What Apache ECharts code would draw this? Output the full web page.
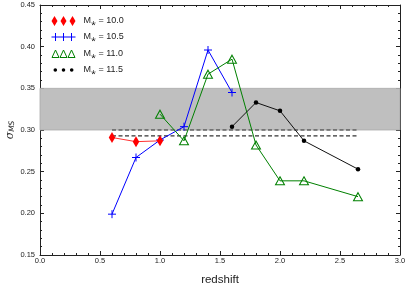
<!DOCTYPE html>
<html>
<head>
<meta charset="utf-8">
<script src="https://cdn.jsdelivr.net/npm/echarts@6/dist/echarts.min.js"></script>
<style>html,body{margin:0;padding:0;background:#fff}#c{width:407px;height:291px}</style>
</head>
<body>
<div id="c"></div>
<script>
// ---- data ----
const seriesNames = ['M\u204E = 10.0', 'M\u204E = 10.5', 'M\u204E = 11.0', 'M\u204E = 11.5'];
const z100 = [0.6, 0.8, 1.0];
const s100 = [0.291, 0.286, 0.287];
const z105 = [0.6, 0.8, 1.0, 1.2, 1.4, 1.6];
const s105 = [0.199, 0.267, 0.288, 0.304, 0.396, 0.345];
const z110 = [1.0, 1.2, 1.4, 1.6, 1.8, 2.0, 2.2, 2.65];
const s110 = [0.319, 0.287, 0.367, 0.385, 0.282, 0.239, 0.239, 0.220];
const z115 = [1.6, 1.8, 2.0, 2.2, 2.65];
const s115 = [0.304, 0.333, 0.323, 0.287, 0.253];
const bandRange = [0.30, 0.35];
const refLevels = [0.300, 0.293];
const refRange = [0.6, 2.65];
const xTicks = [0.0, 0.5, 1.0, 1.5, 2.0, 2.5, 3.0];
const yTicks = [0.15, 0.20, 0.25, 0.30, 0.35, 0.40, 0.45];

const pair = (xs, ys) => xs.map((x, i) => [x, ys[i]]);
const axisColor = '#222';
const font = 'Liberation Sans';

function xAx(pos, showLabel) {
  return {
    type: 'value', position: pos, min: xTicks[0], max: xTicks[xTicks.length - 1], interval: 0.5,
    axisLine: {show: true, onZero: false, lineStyle: {color: axisColor, width: 1}},
    axisTick: {show: true, inside: true, length: 4, lineStyle: {color: axisColor}},
    minorTick: {show: true, splitNumber: 5, length: 2, lineStyle: {color: axisColor}},
    splitLine: {show: false},
    axisLabel: {show: showLabel, fontSize: 7.5, fontFamily: font, color: axisColor, margin: 2,
      formatter: v => v.toFixed(1)}
  };
}
function yAx(pos, showLabel) {
  return {
    type: 'value', position: pos, min: yTicks[0], max: yTicks[yTicks.length - 1], interval: 0.05,
    axisLine: {show: true, onZero: false, lineStyle: {color: axisColor, width: 1}},
    axisTick: {show: true, inside: true, length: 4, lineStyle: {color: axisColor}},
    minorTick: {show: true, splitNumber: 5, length: 2, lineStyle: {color: axisColor}},
    splitLine: {show: false},
    axisLabel: {show: showLabel, fontSize: 7.5, fontFamily: font, color: axisColor, margin: 5,
      formatter: v => v.toFixed(2)}
  };
}

const xMain = xAx('bottom', true);
xMain.name = 'redshift';
xMain.nameLocation = 'middle';
xMain.nameGap = 19;
xMain.nameMoveOverlap = false;
xMain.nameTextStyle = {fontSize: 11.5, fontFamily: font, color: axisColor};
const yMain = yAx('left', true);
yMain.name = '{a|\u03C3}{b|MS}';
yMain.nameLocation = 'middle';
yMain.nameGap = 24;
yMain.nameMoveOverlap = false;
yMain.nameRotate = 90;
yMain.nameTextStyle = {
  rich: {
    a: {fontSize: 11, fontStyle: 'italic', fontFamily: 'DejaVu Serif', color: axisColor},
    b: {fontSize: 7.5, fontStyle: 'italic', fontFamily: 'DejaVu Sans', color: axisColor, padding: [4, 0, 0, 0]}
  }
};

// legend icons (24 x 10 boxes)
const iconDiamonds = 'path://M0,0M24,10M3,0L6,5L3,10L0,5Z M12,0L15,5L12,10L9,5Z M21,0L24,5L21,10L18,5Z';
const iconPluses = 'path://M0,0M24,10M0,4.5L24,4.5L24,5.5L0,5.5Z M3.5,1L4.5,1L4.5,9L3.5,9Z M11.5,1L12.5,1L12.5,9L11.5,9Z M19.5,1L20.5,1L20.5,9L19.5,9Z';
const iconTris = 'path://M0,0M24,10M0.5,9L4,1.5L7.5,9Z M8.5,9L12,1.5L15.5,9Z M16.5,9L20,1.5L23.5,9Z';
const iconDots = 'path://M0,0M24,10M2,5A1.8,1.8 0 1,0 5.6,5A1.8,1.8 0 1,0 2,5Z M10.2,5A1.8,1.8 0 1,0 13.8,5A1.8,1.8 0 1,0 10.2,5Z M18.4,5A1.8,1.8 0 1,0 22,5A1.8,1.8 0 1,0 18.4,5Z';

const red = '#ff0000', blue = '#0000ff', green = '#008000', black = '#000000';

const option = {
  animation: false,
  backgroundColor: '#fff',
  grid: {left: 40, right: 7, top: 5, bottom: 36, containLabel: false, outerBoundsMode: 'none'},
  xAxis: [xMain, xAx('top', false)],
  yAxis: [yMain, yAx('right', false)],
  legend: {
    orient: 'vertical', left: 46, top: 11, itemWidth: 24, itemHeight: 10, itemGap: 6,
    symbolKeepAspect: false,
    textStyle: {fontSize: 9, fontFamily: font, color: axisColor, padding: [0, 0, 0, 3]},
    data: [
      {name: seriesNames[0], icon: iconDiamonds, itemStyle: {color: red, borderWidth: 0}},
      {name: seriesNames[1], icon: iconPluses, itemStyle: {color: blue, borderWidth: 0}},
      {name: seriesNames[2], icon: iconTris, itemStyle: {color: 'rgba(0,0,0,0)', borderColor: green, borderWidth: 1}},
      {name: seriesNames[3], icon: iconDots, itemStyle: {color: black, borderWidth: 0}}
    ]
  },
  series: [
    {
      type: 'line', name: 'band', data: [], z: 1, silent: true,
      markArea: {
        silent: true,
        itemStyle: {color: '#bfbfbf', borderColor: '#a9a9a9', borderWidth: 0.8},
        data: [[{yAxis: bandRange[0]}, {yAxis: bandRange[1]}]]
      }
    },
    {
      type: 'line', name: 'ref1', z: 2, silent: true, symbol: 'none',
      data: [[refRange[0], refLevels[0]], [refRange[1], refLevels[0]]],
      lineStyle: {color: '#333', width: 1.2, type: [4, 2.5]}
    },
    {
      type: 'line', name: 'ref2', z: 2, silent: true, symbol: 'none',
      data: [[refRange[0], refLevels[1]], [refRange[1], refLevels[1]]],
      lineStyle: {color: '#333', width: 1.2, type: [4, 2.5]}
    },
    {
      type: 'line', name: seriesNames[1], z: 3, data: pair(z105, s105),
      symbol: 'path://M4,0L4,8M0,4L8,4', symbolSize: 8,
      lineStyle: {color: blue, width: 1},
      itemStyle: {color: blue, borderColor: blue, borderWidth: 1}
    },
    {
      type: 'line', name: seriesNames[2], z: 3, data: pair(z110, s110),
      symbol: 'triangle', symbolSize: [9, 8],
      lineStyle: {color: green, width: 1},
      itemStyle: {color: 'rgba(0,0,0,0)', borderColor: green, borderWidth: 1}
    },
    {
      type: 'line', name: seriesNames[3], z: 3, data: pair(z115, s115),
      symbol: 'circle', symbolSize: 4.5,
      lineStyle: {color: '#111', width: 1},
      itemStyle: {color: black}
    },
    {
      type: 'line', name: seriesNames[0], z: 4, data: pair(z100, s100),
      symbol: 'diamond', symbolSize: [6.5, 11],
      lineStyle: {color: '#ff3333', width: 1},
      itemStyle: {color: red}
    }
  ]
};
const chart = echarts.init(document.getElementById('c'), null, {renderer: 'canvas'});
chart.setOption(option);
</script>
</body>
</html>
